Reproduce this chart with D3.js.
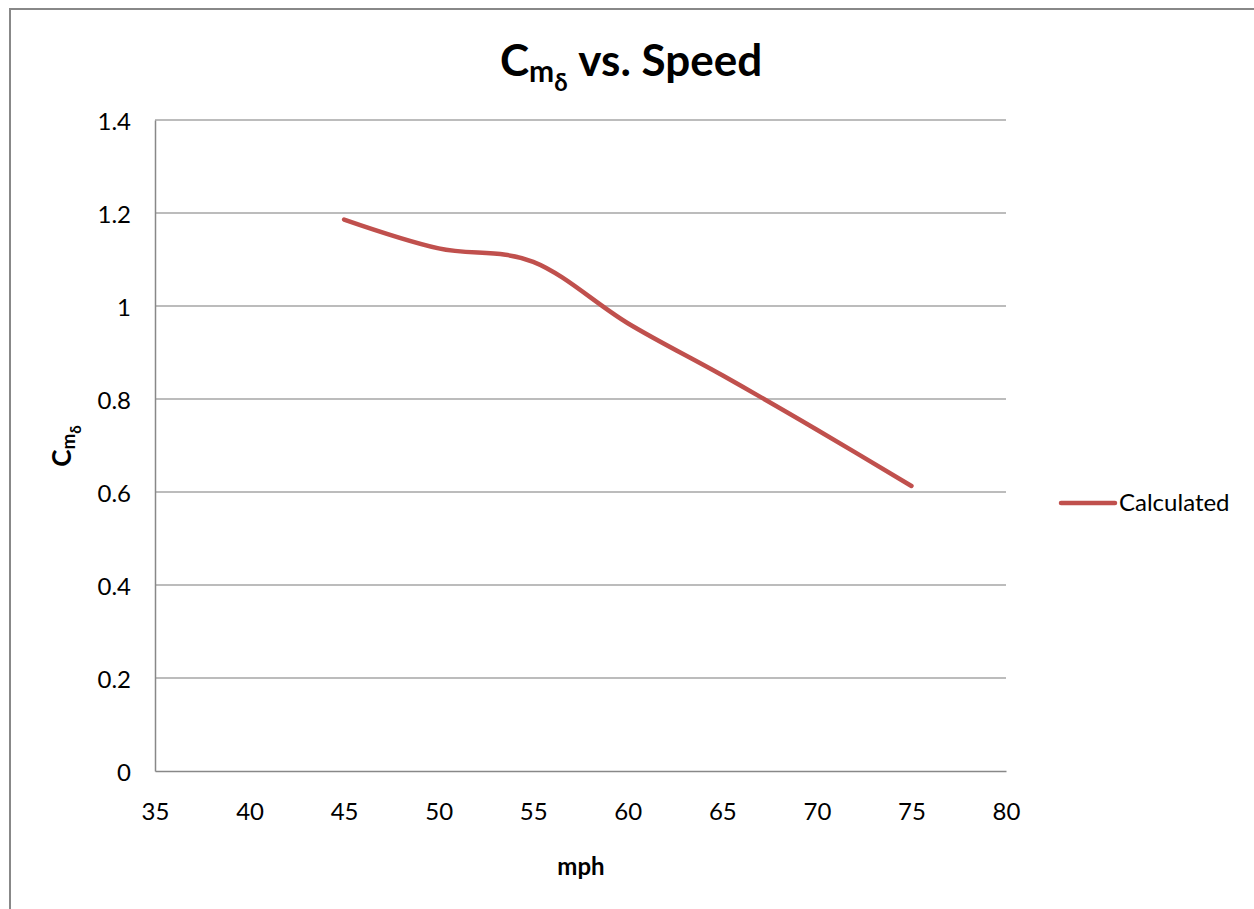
<!DOCTYPE html>
<html>
<head>
<meta charset="utf-8">
<script src="https://cdn.jsdelivr.net/npm/d3@7"></script>
<style>
  html, body { margin: 0; padding: 0; background: #fff; }
  svg { display: block; }
  text { font-family: Lato, "Open Sans", sans-serif; fill: #000; }
</style>
</head>
<body>
<script>
// ---- data ----
const speeds = [45, 50, 55, 60, 65, 70, 75];
const cmDelta = [1.186, 1.124, 1.095, 0.963, 0.851, 0.734, 0.613];
const xTicks = [35, 40, 45, 50, 55, 60, 65, 70, 75, 80];
const yTicks = [0, 0.2, 0.4, 0.6, 0.8, 1.0, 1.2, 1.4];
const seriesName = "Calculated";

const W = 1254, H = 909;
const svg = d3.select("body").append("svg").attr("width", W).attr("height", H);

// outer chart border
svg.append("rect").attr("x", 10).attr("y", 9).attr("width", 1400).attr("height", 1100)
  .attr("fill", "none").attr("stroke", "#888").attr("stroke-width", 2);

const x = d3.scaleLinear().domain([35, 80]).range([155, 1006]);
const y = d3.scaleLinear().domain([0, 1.4]).range([771, 120]);

// gridlines
svg.append("g").selectAll("line").data(yTicks.filter(d => d > 0)).join("line")
  .attr("x1", x(35)).attr("x2", x(80))
  .attr("y1", d => y(d)).attr("y2", d => y(d))
  .attr("stroke", "#a6a6a6").attr("stroke-width", 1.3);

// axes
const yAxis = svg.append("g").attr("transform", `translate(${x(35)},0)`)
  .call(d3.axisLeft(y).tickValues(yTicks).tickSize(0).tickPadding(24)
    .tickFormat(d => d3.format("~g")(d)));
const xAxis = svg.append("g").attr("transform", `translate(0,${y(0)})`)
  .call(d3.axisBottom(x).tickValues(xTicks).tickSize(0).tickPadding(32));
[yAxis, xAxis].forEach(g => {
  g.select(".domain").attr("stroke", "#888").attr("stroke-width", 1.5);
  g.selectAll("text").style("font-family", "Lato, sans-serif").style("font-size", "24px").attr("fill", "#000");
});
yAxis.selectAll("text").attr("dy", "0.38em");

// series line
const line = d3.line()
  .x((d, i) => x(speeds[i]))
  .y(d => y(d))
  .curve(d3.curveCatmullRom.alpha(0));
svg.append("path").datum(cmDelta).attr("d", line)
  .attr("fill", "none").attr("stroke", "#c0504d").attr("stroke-width", 4.5)
  .attr("stroke-linecap", "round").attr("stroke-linejoin", "round");

// title
const title = svg.append("text").attr("x", 500).attr("y", 76).attr("font-weight", "bold");
title.append("tspan").attr("font-size", 44).text("C");
title.append("tspan").attr("font-size", 30).attr("dy", 6).text("m");
title.append("tspan").attr("font-size", 24).attr("dy", 9).text("δ");
title.append("tspan").attr("font-size", 44).attr("dy", -15).text(" vs. Speed");

// x-axis title
svg.append("text").attr("x", 581).attr("y", 875).attr("text-anchor", "middle")
  .attr("font-weight", "bold").attr("font-size", 24).text("mph");

// y-axis title
const yt = svg.append("text").attr("transform", "translate(71,446) rotate(-90)")
  .attr("text-anchor", "middle").attr("font-weight", "bold");
yt.append("tspan").attr("font-size", 26).text("C");
yt.append("tspan").attr("font-size", 19).attr("dy", 4).text("m");
yt.append("tspan").attr("font-size", 15).attr("dy", 6).text("δ");

// legend
svg.append("line").attr("x1", 1061).attr("x2", 1115).attr("y1", 503).attr("y2", 503)
  .attr("stroke", "#c0504d").attr("stroke-width", 4.5).attr("stroke-linecap", "round");
svg.append("text").attr("x", 1119).attr("y", 511).attr("font-size", 24).text(seriesName);
</script>
</body>
</html>
